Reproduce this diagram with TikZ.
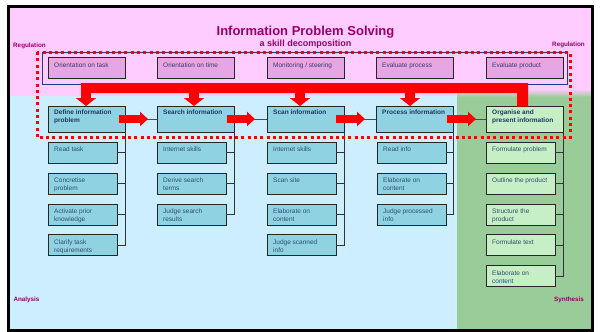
\documentclass[tikz,border=0pt]{standalone}
\usepackage{fontspec}
\setmainfont{Liberation Sans}
\usetikzlibrary{arrows.meta,calc}
\definecolor{bgpink}{HTML}{FFCCFF}
\definecolor{bgblue}{HTML}{CCEEFF}
\definecolor{bggreen}{HTML}{99CC99}
\definecolor{regfill}{HTML}{E6A6E3}
\definecolor{tealfill}{HTML}{8FD3E3}
\definecolor{greenfill}{HTML}{C6EFC6}
\definecolor{titlec}{HTML}{990066}
\definecolor{navyline}{HTML}{1F3F7F}
\definecolor{maintext}{HTML}{1F3864}
\definecolor{subtext}{HTML}{2F4F70}
\definecolor{regtext}{HTML}{3A3A6A}
\definecolor{bigred}{HTML}{FF0000}
\tikzset{
  bx/.style={draw=black!85, line width=0.9pt, anchor=north west, inner sep=0pt, outer sep=0pt},
  regbox/.style={bx, fill=regfill, minimum width=77pt, minimum height=21pt},
  mainbox/.style={bx, fill=tealfill, minimum width=77pt, minimum height=26pt},
  orgbox/.style={bx, fill=greenfill, minimum width=77pt, minimum height=26pt},
  subbox/.style={bx, fill=tealfill, minimum width=69pt, minimum height=21pt},
  gsubbox/.style={bx, fill=greenfill, minimum width=69pt, minimum height=21pt},
  regtxt/.style={inner sep=0pt, align=left, text=regtext, font=\fontsize{6.5}{7.8}\selectfont},
  maintxt/.style={inner sep=0pt, align=left, text=maintext, font=\bfseries\fontsize{6.5}{8}\selectfont},
  subtxt/.style={inner sep=0pt, align=left, text=subtext, font=\fontsize{6.5}{7.8}\selectfont},
  sidelab/.style={inner sep=0pt, anchor=base west, text=titlec, font=\bfseries\fontsize{6.3}{7}\selectfont},
  tree/.style={draw=black!80, line width=0.8pt},
  conn/.style={draw=black!70, line width=0.8pt},
  bigdown/.style={draw=bigred, line width=10pt, -{Triangle[width=20pt,length=8pt]}},
  bigright/.style={draw=bigred, line width=8pt, -{Triangle[width=14pt,length=8pt]}},
  dotted red/.style={draw=bigred, line width=3pt, dash pattern=on 3pt off 3.3pt}
}
\newcommand\mkbox[7]{%
  \node[#1] (#2) at (#3,#4) {};
  \node[#5, anchor=north west] (#2t) at ([xshift=6pt,yshift=-#6pt]#2.north west) {#7};}
\begin{document}
\begin{tikzpicture}[x=1pt,y=-1pt]
\useasboundingbox (0,0) rectangle (600,332);
\fill[white] (0,0) rectangle (600,332);
% backgrounds
\fill[bgpink] (10,7.5) rectangle (591,96);
\fill[bgblue] (10,96) rectangle (457,329);
\fill[bggreen] (457,96) rectangle (591,329);
\shade[top color=bgpink, bottom color=bggreen] (457,89) rectangle (591,97);
\draw[black, line width=3pt] (8.7,6) rectangle (592.5,330.5);
% titles
\node[anchor=base, inner sep=0pt, text=titlec, font=\bfseries\fontsize{13}{15}\selectfont] (title) at (305.5,35) {Information Problem Solving};
\node[anchor=base, inner sep=0pt, text=titlec, font=\bfseries\fontsize{9}{11}\selectfont] (subtitle) at (305.5,46) {a skill decomposition};
\node[sidelab] (regl) at (13,47) {Regulation};
\node[sidelab] (regr) at (552,46.5) {Regulation};
\node[sidelab] (ana) at (13.3,301) {Analysis};
\node[sidelab] (syn) at (554,301) {Synthesis};
% regulation enclosure
\draw[navyline, line width=0.8pt] (42,52) rectangle (567,84);
% regulation boxes
\mkbox{regbox}{r1}{48}{57}{regtxt}{5.3}{Orientation on task}
\mkbox{regbox}{r2}{157}{57}{regtxt}{5.3}{Orientation on time}
\mkbox{regbox}{r3}{267}{57}{regtxt}{5.3}{Monitoring / steering}
\mkbox{regbox}{r4}{376}{57}{regtxt}{5.3}{Evaluate process}
\mkbox{regbox}{r5}{486}{57}{regtxt}{5.3}{Evaluate product}
% main boxes
\mkbox{mainbox}{def}{48}{106}{maintxt}{4}{Define information\\problem}
\mkbox{mainbox}{srch}{157}{106}{maintxt}{4}{Search information}
\mkbox{mainbox}{scan}{267}{106}{maintxt}{4}{Scan information}
\mkbox{mainbox}{proc}{376}{106}{maintxt}{4}{Process information}
\mkbox{orgbox}{org}{486}{106}{maintxt}{4}{Organise and\\present information}
% red bar and down arrows
\fill[bigred] (81,83) -- (528,83) -- (528,106.5) -- (517,106.5) -- (517,93) -- (81,93) -- cycle;
\coordinate (d1) at (86,88);
\coordinate (d2) at (194,88);
\coordinate (d3) at (300,88);
\coordinate (d4) at (410,88);
\draw[bigdown] (d1) -- (d1 |- def.north);
\draw[bigdown] (d2) -- (d2 |- srch.north);
\draw[bigdown] (d3) -- (d3 |- scan.north);
\draw[bigdown] (d4) -- (d4 |- proc.north);
% thin connectors and horizontal arrows
\draw[conn] (def.east) -- (srch.west);
\draw[conn] (srch.east) -- (scan.west);
\draw[conn] (scan.east) -- (proc.west);
\draw[conn] (proc.east) -- (org.west);
\draw[bigright] ([xshift=-6pt]def.east) -- ([xshift=-9pt]srch.west);
\draw[bigright] ([xshift=-7pt]srch.east) -- ([xshift=-12pt]scan.west);
\draw[bigright] ([xshift=-8pt]scan.east) -- ([xshift=-11pt]proc.west);
\draw[bigright] ([xshift=-6pt]proc.east) -- ([xshift=-10pt]org.west);
% column 1
\mkbox{subbox}{c1a}{48}{142}{subtxt}{5}{Read task}
\mkbox{subbox}{c1b}{48}{173}{subtxt}{5}{Concretise\\problem}
\mkbox{subbox}{c1c}{48}{204}{subtxt}{5}{Activate prior\\knowledge}
\mkbox{subbox}{c1d}{48}{234.5}{subtxt}{5}{Clarify task\\requirements}
% column 2
\mkbox{subbox}{c2a}{157}{142}{subtxt}{5}{Internet skills}
\mkbox{subbox}{c2b}{157}{173}{subtxt}{5}{Derive search\\terms}
\mkbox{subbox}{c2c}{157}{204}{subtxt}{5}{Judge search\\results}
% column 3
\mkbox{subbox}{c3a}{267}{142}{subtxt}{5}{Internet skills}
\mkbox{subbox}{c3b}{267}{173}{subtxt}{5}{Scan site}
\mkbox{subbox}{c3c}{267}{204}{subtxt}{5}{Elaborate on\\content}
\mkbox{subbox}{c3d}{267}{234.5}{subtxt}{5}{Judge scanned\\info}
% column 4
\mkbox{subbox}{c4a}{377}{142}{subtxt}{5}{Read info}
\mkbox{subbox}{c4b}{377}{173}{subtxt}{5}{Elaborate on\\content}
\mkbox{subbox}{c4c}{377}{204}{subtxt}{5}{Judge processed\\info}
% column 5
\mkbox{gsubbox}{c5a}{486}{142}{subtxt}{5}{Formulate problem}
\mkbox{gsubbox}{c5b}{486}{173}{subtxt}{5}{Outline the product}
\mkbox{gsubbox}{c5c}{486}{204}{subtxt}{5}{Structure the\\product}
\mkbox{gsubbox}{c5d}{486}{234.5}{subtxt}{5}{Formulate text}
\mkbox{gsubbox}{c5e}{486}{265.5}{subtxt}{5}{Elaborate on\\content}
% tree lines
\draw[tree] (def.south east) |- (c1d.east);
\draw[tree] (c1a.east) -- (c1a.east -| def.east);
\draw[tree] (c1b.east) -- (c1b.east -| def.east);
\draw[tree] (c1c.east) -- (c1c.east -| def.east);
\draw[tree] (srch.south east) |- (c2c.east);
\draw[tree] (c2a.east) -- (c2a.east -| srch.east);
\draw[tree] (c2b.east) -- (c2b.east -| srch.east);
\draw[tree] (scan.south east) |- (c3d.east);
\draw[tree] (c3a.east) -- (c3a.east -| scan.east);
\draw[tree] (c3b.east) -- (c3b.east -| scan.east);
\draw[tree] (c3c.east) -- (c3c.east -| scan.east);
\draw[tree] (proc.south east) |- (c4c.east);
\draw[tree] (c4a.east) -- (c4a.east -| proc.east);
\draw[tree] (c4b.east) -- (c4b.east -| proc.east);
\draw[tree] (org.south east) |- (c5e.east);
\draw[tree] (c5a.east) -- (c5a.east -| org.east);
\draw[tree] (c5b.east) -- (c5b.east -| org.east);
\draw[tree] (c5c.east) -- (c5c.east -| org.east);
\draw[tree] (c5d.east) -- (c5d.east -| org.east);
% red dotted frame
\draw[dotted red] (37,52) rectangle (570,137.5);
\end{tikzpicture}
\end{document}
